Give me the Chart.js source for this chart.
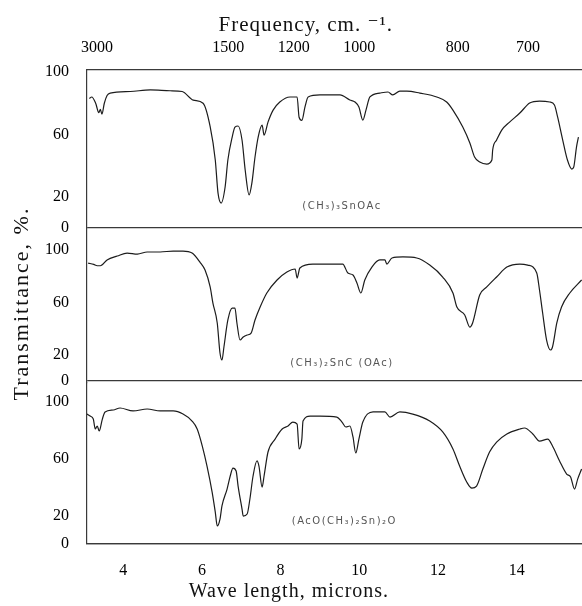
<!DOCTYPE html>
<html>
<head>
<meta charset="utf-8">
<script src="https://cdn.jsdelivr.net/npm/chart.js@4.4.1/dist/chart.umd.min.js"></script>
<style>
  body { margin: 0; background: #fff; }
</style>
</head>
<body>
<canvas id="ir-chart" width="582" height="606"></canvas>
<script>
// axis ticks
const wlTicks = [4, 6, 8, 10, 12, 14];
const freqTicks = [3000, 1500, 1200, 1000, 800, 700];
const pctTicks = [0, 20, 60, 100];
const panelNames = ['(CH₃)₃SnOAc', '(CH₃)₂SnC (OAc)', '(AcO(CH₃)₂Sn)₂O'];

// (CH3)3SnOAc
const wl1 = [3.14, 3.2, 3.3, 3.38, 3.42, 3.46, 3.52, 3.59, 3.67, 4.18, 4.69, 5.19, 5.5, 5.78,
  6.03, 6.21, 6.34, 6.41, 6.49, 6.59, 6.66, 6.77, 6.84, 6.92, 7.02, 7.10, 7.20, 7.27, 7.35,
  7.43, 7.53, 7.58, 7.68, 7.81, 7.98, 8.24, 8.42, 8.47, 8.54, 8.62, 8.70, 9.00, 9.51, 9.76,
  9.89, 9.99, 10.09, 10.17, 10.27, 10.52, 10.73, 10.85, 11.03, 11.21, 11.54, 11.97, 12.22,
  12.38, 12.63, 12.81, 12.93, 13.06, 13.24, 13.37, 13.39, 13.49, 13.62, 13.82, 14.08, 14.33,
  14.58, 14.84, 14.96, 15.04, 15.17, 15.29, 15.40, 15.45, 15.52, 15.57];
const t1 = [83, 84, 80, 74, 76, 73, 80, 85, 86.5, 87.5, 88.5, 88, 87.5, 82,
  80, 65, 43.6, 22.4, 16, 26.3, 43.6, 58.3, 64.7, 65.4, 56.4, 37.2, 21.2, 28.8, 45.5,
  58.3, 66, 59.6, 67.9, 75.6, 80.8, 84, 84, 71, 69, 77.6, 84, 85.3, 85.3, 82.1,
  80.8, 77.6, 69.2, 75.6, 84, 86.5, 87.2, 85.3, 87.8, 87.8, 86.5, 84, 80.8,
  75.6, 64.7, 54.5, 45.5, 42.3, 41, 43.6, 50, 56.4, 62.8, 67.9, 73.7, 80.1,
  81.4, 80.8, 78.8, 71.2, 56.4, 43.6, 37.8, 39.1, 51.9, 58.3];

// (CH3)2SnCl(OAc)
const wl2 = [3.11, 3.25, 3.34, 3.42, 3.59, 3.85, 4.10, 4.36, 4.61, 4.94, 5.27, 5.52, 5.75,
  5.95, 6.08, 6.21, 6.28, 6.39, 6.46, 6.51, 6.56, 6.66, 6.77, 6.84, 6.89, 6.97, 7.05, 7.15,
  7.25, 7.35, 7.48, 7.65, 7.91, 8.16, 8.37, 8.42, 8.49, 8.82, 9.33, 9.58, 9.71, 9.84, 9.94,
  10.04, 10.14, 10.32, 10.52, 10.65, 10.70, 10.83, 11.11, 11.46, 11.79, 12.12, 12.38, 12.48,
  12.68, 12.81, 12.88, 13.06, 13.24, 13.49, 13.75, 14.08, 14.28, 14.51, 14.58, 14.66, 14.76,
  14.86, 14.91, 15.02, 15.14, 15.35, 15.65];
const t2 = [90, 89, 88, 88, 92.4, 95.4, 97.7, 96.9, 98.5, 98.5, 99.2, 99.2, 97.7,
  90.8, 84.7, 71.8, 59.5, 44.3, 21.4, 16, 26, 46.6, 55.7, 55.7, 44.3, 31.3, 33.6, 35.1,
  36.6, 46.6, 56.5, 67.2, 77.1, 83.2, 85.5, 78.6, 86.3, 89.3, 89.3, 89.3, 82.4, 80.9, 74.8,
  67.2, 77.1, 87, 92.4, 92.4, 89.3, 93.9, 94.7, 93.9, 88.5, 79.4, 67.2, 56.5,
  50.4, 41.2, 44.3, 65.6, 71.8, 79.4, 87, 89.3, 88.5, 82.4, 69.5, 51.9, 31.3,
  23.7, 26, 44.3, 56.5, 67.2, 77.1];

// (AcO(CH3)2Sn)2O
const wl3 = [3.08, 3.16, 3.24, 3.29, 3.34, 3.39, 3.47, 3.54, 3.75, 3.92, 4.25, 4.61, 4.94,
  5.27, 5.52, 5.75, 5.88, 6.01, 6.13, 6.26, 6.34, 6.39, 6.46, 6.51, 6.64, 6.72, 6.79, 6.87,
  6.92, 7.02, 7.05, 7.15, 7.22, 7.30, 7.40, 7.45, 7.53, 7.58, 7.68, 7.86, 8.04, 8.19, 8.31,
  8.42, 8.47, 8.54, 8.57, 8.75, 9.00, 9.43, 9.56, 9.66, 9.76, 9.84, 9.91, 9.99, 10.09, 10.35,
  10.65, 10.78, 11.03, 11.36, 11.79, 12.12, 12.38, 12.55, 12.73, 12.86, 12.98, 13.14, 13.31,
  13.49, 13.75, 14.08, 14.20, 14.41, 14.58, 14.79, 14.91, 15.09, 15.27, 15.37, 15.47, 15.55,
  15.65];
const t3 = [91.5, 90.1, 88, 81, 83.1, 79.6, 88, 93, 94.4, 95.8, 93.7, 95.1, 93.7,
  93.7, 91.5, 86.6, 81, 69, 54.9, 36.6, 22.5, 12.7, 17.6, 26.8, 38.7, 47.9, 53.5, 51.4,
  40.8, 24.6, 19.7, 21.1, 31.7, 47.9, 58.5, 54.9, 40.1, 47.9, 64.8, 73.9, 81, 83.1, 85.9,
  84.5, 66.9, 73.9, 86.6, 90.1, 90.1, 89.4, 85.9, 82.4, 83.1, 75.4, 64.1, 73.9, 85.9, 93,
  93, 89.4, 93, 91.5, 86.6, 78.9, 66.9, 54.9, 43.7, 39.4, 40.8, 52.8, 64.8,
  71.8, 77.5, 81, 81.7, 77.5, 72.5, 73.9, 69, 58.5, 49.3, 47.2, 38.7, 45.7,
  52.8];

const ink = '#1c1c1c';
const frame = '#3a3a3a';
const serif = '"Liberation Serif", "DejaVu Serif", serif';

function trace(xs, ys, axis) {
    return {
        data: xs.map((x, i) => ({ x: x, y: ys[i] })),
        yAxisID: axis,
        borderColor: ink,
        borderWidth: 1.2,
        pointRadius: 0,
        fill: false,
        cubicInterpolationMode: 'monotone',
    };
}

// one stacked %T axis per spectrum
function pctAxis(min, max, weight) {
    return {
        type: 'linear',
        position: 'left',
        stack: 'ir',
        stackWeight: weight,
        min: min,
        max: max,
        afterBuildTicks: (s) => { s.ticks = pctTicks.map(v => ({ value: v })); },
        afterFit: (s) => { s.width = 87; },
        grid: {
            drawTicks: false,
            color: (c) => (c.tick && c.tick.value === 0 ? frame : 'rgba(0,0,0,0)'),
            lineWidth: 1.2,
        },
        border: { color: frame, width: 1.2 },
        ticks: { padding: 18, color: '#000', font: { family: serif, size: 16 } },
    };
}

// titles and compound names
const captions = {
    id: 'captions',
    afterDraw(chart) {
        const { ctx, chartArea, scales } = chart;
        ctx.save();
        ctx.fillStyle = '#111';
        ctx.textAlign = 'center';
        ctx.textBaseline = 'middle';
        ctx.font = '21px ' + serif;
        ctx.letterSpacing = '1px';
        ctx.fillText('Frequency, cm. ⁻¹.', scales.x.getPixelForValue(8.64), chartArea.top - 45);
        ctx.font = '20px ' + serif;
        ctx.fillText('Wave length, microns.', scales.x.getPixelForValue(8.21), chartArea.bottom + 48);

        ctx.fillStyle = '#555';
        ctx.font = '10px "DejaVu Sans", sans-serif';
        ctx.letterSpacing = '1.5px';
        const spots = [['y1', 9.56, 14], ['y2', 9.56, 13.5], ['y3', 9.62, 16]];
        spots.forEach((s, i) => {
            ctx.fillText(panelNames[i], scales.x.getPixelForValue(s[1]), scales[s[0]].getPixelForValue(s[2]));
        });

        ctx.fillStyle = '#111';
        ctx.translate(22, (scales.y2.top + scales.y2.bottom) / 2 - 2);
        ctx.rotate(-Math.PI / 2);
        ctx.font = '22px ' + serif;
        ctx.letterSpacing = '2px';
        ctx.fillText('Transmittance, %.', 0, 0);
        ctx.restore();
    }
};

const ctx = document.getElementById('ir-chart').getContext('2d');
const irChart = new Chart(ctx, {
    type: 'line',
    data: {
        datasets: [
            trace(wl1, t1, 'y1'),
            trace(wl2, t2, 'y2'),
            trace(wl3, t3, 'y3'),
        ]
    },
    options: {
        responsive: false,
        animation: false,
        layout: { padding: 0 },
        plugins: {
            legend: { display: false },
            tooltip: { enabled: false },
        },
        scales: {
            x: {
                type: 'linear',
                position: 'bottom',
                min: 3.08,
                max: 15.66,
                afterBuildTicks: (s) => { s.ticks = wlTicks.map(v => ({ value: v })); },
                afterFit: (s) => { s.height = 62; },
                grid: { display: false, drawTicks: false },
                border: { color: frame, width: 1.2 },
                ticks: { padding: 17, maxRotation: 0, color: '#000', font: { family: serif, size: 16 } },
            },
            xTop: {
                type: 'linear',
                position: 'top',
                min: 3.08,
                max: 15.66,
                afterBuildTicks: (s) => { s.ticks = freqTicks.map(f => ({ value: 10000 / f })); },
                afterFit: (s) => { s.height = 70; },
                grid: { display: false, drawTicks: false },
                border: { color: frame, width: 1.2 },
                ticks: {
                    padding: 13,
                    maxRotation: 0,
                    autoSkip: false,
                    color: '#000',
                    font: { family: serif, size: 16 },
                    callback: (v) => Math.round(10000 / v),
                },
            },
            // stacked axes are laid out bottom-up, so the lowest panel comes first
            y3: pctAxis(0, 113.4, 161),
            y2: pctAxis(-1.5, 116.8, 155),
            y1: pctAxis(0, 101.3, 158),
        },
    },
    plugins: [captions],
});
</script>
</body>
</html>
